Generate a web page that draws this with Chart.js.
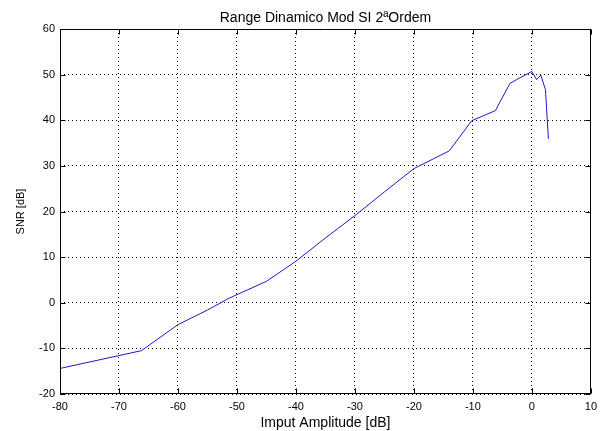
<!DOCTYPE html>
<html>
<head>
<meta charset="utf-8">
<script src="https://cdn.jsdelivr.net/npm/chart.js@4"></script>
<style>
  html, body { margin: 0; padding: 0; background: #fff; }
  #wrap { width: 603px; height: 431px; }
</style>
</head>
<body>
<div id="wrap"><canvas id="chart"></canvas></div>
<script>
// valores
const inputAmp = [-80, -66.2, -60, -55, -51.5, -45, -40, -35, -30, -25, -20, -14, -10.2, -6.2, -3.7, -2.6, 0, 0.8, 1.5, 2.3, 2.8];
const snr = [-14.4, -10.5, -4.8, -1.6, 0.9, 4.7, 9.1, 14.2, 19.1, 24.3, 29.4, 33.3, 39.9, 42.1, 48.1, 48.9, 50.7, 48.9, 49.9, 46.7, 35.9];
const xTicks = [-80, -70, -60, -50, -40, -30, -20, -10, 0, 10];
const yTicks = [-20, -10, 0, 10, 20, 30, 40, 50, 60];

const FONT = '"Liberation Sans", Arial, Helvetica, sans-serif';

// moldura, ticks internos e textos no estilo MATLAB
const matlabFrame = {
  id: 'matlabFrame',
  afterDatasetsDraw(chart) {
    const { ctx, chartArea: a, scales: { x, y } } = chart;
    const L = Math.round(a.left) + 0.5, R = Math.round(a.right) - 0.5;
    const T = Math.round(a.top) + 0.5, B = Math.round(a.bottom) - 0.5;
    ctx.save();
    ctx.strokeStyle = '#000';
    ctx.lineWidth = 1;
    ctx.beginPath();
    ctx.rect(L, T, R - L, B - T);
    const tl = 5;
    xTicks.forEach(v => {
      const px = Math.round(x.getPixelForValue(v)) + 0.5;
      ctx.moveTo(px, B); ctx.lineTo(px, B - tl);
      ctx.moveTo(px, T); ctx.lineTo(px, T + tl);
    });
    yTicks.forEach(v => {
      const py = Math.round(y.getPixelForValue(v)) + 0.5;
      ctx.moveTo(L, py); ctx.lineTo(L + tl, py);
      ctx.moveTo(R, py); ctx.lineTo(R - tl, py);
    });
    ctx.stroke();

    ctx.fillStyle = '#000';
    ctx.textAlign = 'center';
    ctx.textBaseline = 'middle';
    const cx = (a.left + a.right) / 2;
    ctx.font = '14px ' + FONT;
    ctx.fillText('Range Dinamico Mod SI 2ªOrdem', cx, 18);
    ctx.fillText('Imput Amplitude [dB]', cx, 423);
    ctx.font = '11px ' + FONT;
    ctx.translate(21, (a.top + a.bottom) / 2);
    ctx.rotate(-Math.PI / 2);
    ctx.fillText('SNR [dB]', 0, 0);
    ctx.restore();
  }
};

new Chart(document.getElementById('chart'), {
  type: 'line',
  data: {
    datasets: [{
      data: inputAmp.map((v, i) => ({ x: v, y: snr[i] })),
      borderColor: '#1a1acc',
      borderWidth: 1,
      pointRadius: 0,
      tension: 0,
      fill: false
    }]
  },
  options: {
    responsive: true,
    maintainAspectRatio: false,
    animation: false,
    layout: { padding: { top: 29, right: 6, left: 0, bottom: 0 } },
    plugins: {
      legend: { display: false },
      tooltip: { enabled: false },
      title: { display: false }
    },
    scales: {
      x: {
        type: 'linear',
        min: -80,
        max: 10,
        afterBuildTicks: s => { s.ticks = xTicks.map(v => ({ value: v })); },
        afterFit: s => { s.height = 37; },
        grid: { color: '#000', lineWidth: 1, drawTicks: false },
        border: { display: false, dash: [1, 3] },
        ticks: { color: '#000', font: { family: FONT, size: 11 }, padding: 6, maxRotation: 0 }
      },
      y: {
        type: 'linear',
        min: -20,
        max: 60,
        afterBuildTicks: s => { s.ticks = yTicks.map(v => ({ value: v })); },
        afterFit: s => { s.width = 60; },
        grid: { color: '#000', lineWidth: 1, drawTicks: false },
        border: { display: false, dash: [1, 3] },
        ticks: { color: '#000', font: { family: FONT, size: 11 }, padding: 5 }
      }
    }
  },
  plugins: [matlabFrame]
});
</script>
</body>
</html>
